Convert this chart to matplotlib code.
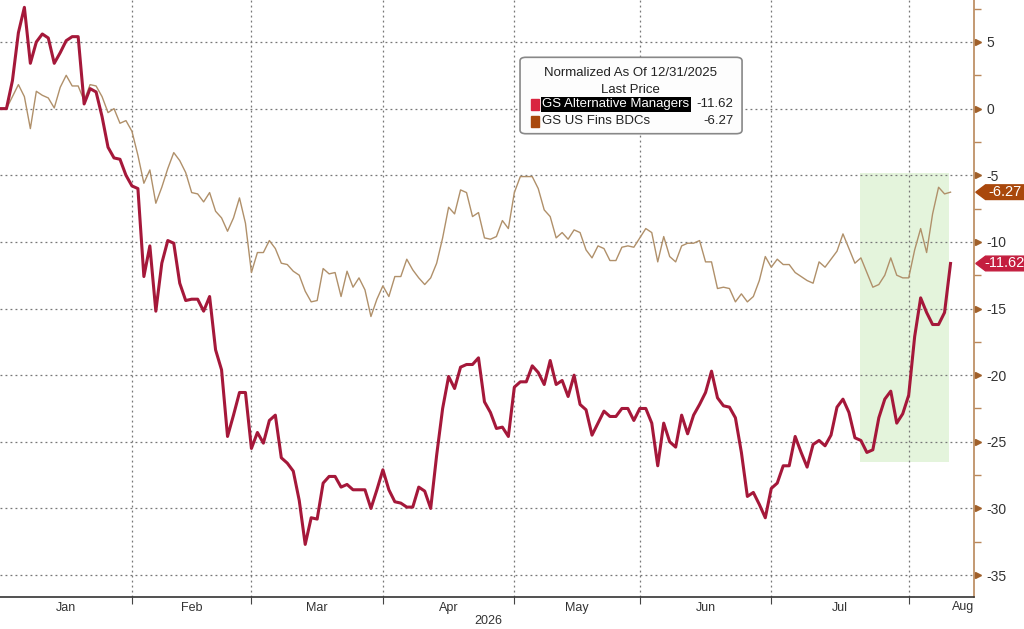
import numpy as np
import pandas as pd
import matplotlib
matplotlib.use("Agg")
from matplotlib import pyplot as plt
from matplotlib import transforms
from matplotlib.patches import Polygon, FancyBboxPatch

plt.rcParams['font.family'] = ['Liberation Sans', 'DejaVu Sans']

# normalized to 12/31/2025, one value per weekday (Bloomberg skips weekends)
alt_managers = [
    0, 0, 0, 2.1, 5.7, 7.6, 3.4, 5.0, 5.6, 5.3,
    3.4, 4.2, 5.1, 5.4, 5.4, 0.35, 1.5, 1.25, -0.6, -2.9,
    -3.7, -3.8, -5.0, -5.8, -6.0, -12.6, -10.3, -15.2, -11.6, -9.9,
    -10.1, -13.1, -14.4, -14.3, -14.3, -15.2, -14.1, -18.1, -19.6, -24.6,
    -23.0, -21.3, -21.3, -25.5, -24.3, -25.1, -23.4, -23.0, -26.2, -26.6,
    -27.2, -29.4, -32.7, -30.7, -30.8, -28.1, -27.6, -27.6, -28.4, -28.2,
    -28.6, -28.6, -28.6, -30.0, -28.6, -27.1, -28.6, -29.5, -29.6, -29.9,
    -29.9, -28.4, -28.7, -30.0, -26.0, -22.5, -20.1, -21.0, -19.4, -19.2,
    -19.2, -18.7, -22.0, -22.8, -24.0, -23.9, -24.6, -20.9, -20.5, -20.5,
    -19.3, -19.8, -20.7, -18.9, -20.7, -20.4, -21.6, -20.0, -22.2, -22.6,
    -24.5, -23.6, -22.7, -23.1, -23.1, -22.5, -22.5, -23.4, -22.5, -22.5,
    -23.6, -26.8, -23.6, -25.0, -25.4, -23.0, -24.4, -23.0, -22.2, -21.3,
    -19.7, -21.7, -22.3, -22.4, -23.2, -25.8, -29.1, -28.8, -29.7, -30.7,
    -28.5, -28.1, -26.8, -26.8, -24.6, -25.8, -26.9, -25.2, -24.9, -25.3,
    -24.5, -22.4, -21.8, -22.8, -24.7, -24.9, -25.8, -25.6, -23.2, -21.8,
    -21.2, -23.6, -22.9, -21.5, -17.1, -14.2, -15.3, -16.2, -16.2, -15.3,
    -11.62,
]
fins_bdcs = [
    0, 0, 0, 0.9, 1.8, 0.9, -1.5, 1.3, 1.0, 0.8,
    0.05, 1.6, 2.5, 1.7, 1.7, 0.6, 1.8, 1.7, 0.9, -0.3,
    0.0, -1.1, -0.9, -1.7, -3.5, -5.6, -4.6, -7.1, -5.9, -4.5,
    -3.3, -3.9, -4.8, -6.3, -6.4, -7.0, -6.3, -7.7, -8.2, -9.2,
    -8.2, -6.7, -8.6, -12.3, -10.8, -10.8, -9.9, -10.5, -11.6, -11.7,
    -12.2, -12.5, -13.7, -14.5, -14.4, -12.0, -12.4, -12.3, -14.1, -12.2,
    -13.4, -12.7, -13.6, -15.6, -14.3, -13.3, -14.1, -12.6, -12.6, -11.3,
    -12.1, -12.7, -13.2, -12.7, -11.6, -9.7, -7.4, -7.9, -6.1, -6.3,
    -8.1, -7.8, -9.7, -9.8, -9.6, -8.4, -9.0, -6.3, -5.1, -5.1,
    -5.1, -6.0, -7.6, -8.1, -9.7, -9.3, -9.8, -9.1, -9.3, -10.6,
    -11.2, -10.3, -10.5, -11.4, -11.4, -10.4, -10.3, -10.4, -9.7, -9.0,
    -9.3, -11.5, -9.6, -11.1, -11.5, -10.3, -10.1, -10.1, -9.9, -11.5,
    -11.5, -13.5, -13.4, -13.5, -14.5, -13.9, -14.5, -14.1, -12.9, -11.1,
    -11.9, -11.3, -11.7, -11.7, -12.3, -12.6, -12.9, -13.1, -11.5, -11.9,
    -11.3, -10.7, -9.4, -10.5, -11.6, -11.2, -12.3, -13.4, -13.2, -12.5,
    -11.2, -12.5, -12.7, -12.7, -10.6, -9.0, -10.8, -7.9, -5.9, -6.4,
    -6.27,
]
series_names = ['GS Alternative Managers', 'GS US Fins BDCs']
last_prices = [-11.62, -6.27]
months = ['Jan', 'Feb', 'Mar', 'Apr', 'May', 'Jun', 'Jul', 'Aug']
month_starts = ['2026-01-01', '2026-02-01', '2026-03-01', '2026-04-01',
                '2026-05-01', '2026-06-01', '2026-07-01', '2026-08-01']
shade_dates = ['2026-07-22', '2026-08-11']
shade_range = [-26.5, -4.8]

dates = pd.bdate_range('2025-12-31', periods=len(alt_managers))
day = np.arange(len(dates))
base = np.datetime64('2025-12-31')


def weekday_no(d):
    return np.busday_count(base, np.datetime64(d))


red = '#a5183a'
tan = '#b0906a'
brown = '#a9480c'
crimson = '#c41e3f'

fig = plt.figure(figsize=(10.24, 6.29), dpi=100)
ax = fig.add_axes([0.0, 0.051, 0.951, 0.949])

# shaded window
x0, x1 = weekday_no(shade_dates[0]) - 0.2, weekday_no(shade_dates[1]) + 0.7
ax.fill_between([x0, x1], shade_range[0], shade_range[1], color='#e4f4dc', lw=0, zorder=0)

ax.plot(day, fins_bdcs, color=tan, lw=1.0, zorder=3)
ax.plot(day, alt_managers, color=red, lw=2.2, zorder=4)

ax.set_xlim(0.92, 163.9)
ax.set_ylim(-36.64, 8.15)

# grid
ax.set_yticks(np.arange(-35, 6, 5))
ax.set_yticks(np.arange(-32.5, 8, 5), minor=True)
starts = [weekday_no(m) for m in month_starts]
ax.set_xticks(starts[1:])
ax.grid(True, which='major', color='#777777', ls=(0, (1.5, 2.5)), lw=0.9)

ax.yaxis.tick_right()
ax.tick_params(axis='y', which='major', length=0, pad=9, labelsize=10, labelcolor='#333333')
ax.tick_params(axis='y', which='minor', length=5, width=1, color='#b9875a', direction='out')
ax.set_yticklabels([str(v) for v in range(-35, 6, 5)])
tr = transforms.blended_transform_factory(ax.transAxes, ax.transData)
ax.plot(np.full(9, 1.004), np.arange(-35, 6, 5), marker='>', ms=5, ls='none',
        color='#a0602a', transform=tr, clip_on=False, zorder=6)

ax.tick_params(axis='x', which='major', length=5, color='#444444', labelbottom=False)
ax.tick_params(axis='x', which='minor', length=0, pad=4, labelsize=9, labelcolor='#333333')
mids = [(a + b) / 2 for a, b in zip(starts[:-1], starts[1:])]
ax.set_xticks(mids, minor=True)
ax.set_xticklabels(months[:-1], minor=True)
ax.text(1.0, -0.0165, months[-1], transform=ax.transAxes, ha='right', va='center',
        fontsize=9, color='#333333')
ax.text(0.501, -0.04, '2026', transform=ax.transAxes, ha='center', va='center',
        fontsize=9, color='#333333')

for s in ['top', 'left']:
    ax.spines[s].set_visible(False)
ax.spines['right'].set_color('#b9875a')
ax.spines['right'].set_linewidth(1.2)
ax.spines['bottom'].set_color('#333333')
ax.spines['bottom'].set_linewidth(1.2)

# last price tags
for v, c in zip(last_prices, [crimson, brown]):
    h = 0.55
    tag = Polygon([(1.002, v), (1.012, v + h), (1.052, v + h), (1.052, v - h), (1.012, v - h)],
                  closed=True, transform=tr, clip_on=False, color=c, zorder=7)
    ax.add_patch(tag)
    ax.text(1.032, v, '%.2f' % v, transform=tr, ha='center', va='center',
            fontsize=10.5, color='white', zorder=8)

# legend box
box = FancyBboxPatch((0.534, 0.776), 0.228, 0.128, boxstyle='round,pad=0,rounding_size=0.006',
                     transform=ax.transAxes, facecolor='#fdfdfd', edgecolor='#888888',
                     lw=1.2, zorder=9)
ax.add_patch(box)
ax.text(0.647, 0.877, 'Normalized As Of 12/31/2025', transform=ax.transAxes,
        ha='center', va='center', fontsize=9.5, color='#222222', zorder=10)
ax.text(0.647, 0.850, 'Last Price', transform=ax.transAxes,
        ha='center', va='center', fontsize=9.5, color='#222222', zorder=10)
for i, (name, val, c) in enumerate(zip(series_names, last_prices, ['#d9243f', brown])):
    yy = 0.825 - i * 0.028
    ax.add_patch(plt.Rectangle((0.545, yy - 0.009), 0.0085, 0.018, transform=ax.transAxes,
                               color=c, zorder=10))
    kw = dict(boxstyle='square,pad=0.1', fc='black', ec='none') if i == 0 else None
    ax.text(0.557, yy, name, transform=ax.transAxes, ha='left', va='center', fontsize=9.5,
            color='white' if i == 0 else '#222222', bbox=kw, zorder=10)
    ax.text(0.753, yy, '%.2f' % val, transform=ax.transAxes, ha='right', va='center',
            fontsize=9.5, color='#222222', zorder=10)

fig.savefig('out.png', dpi=100)
